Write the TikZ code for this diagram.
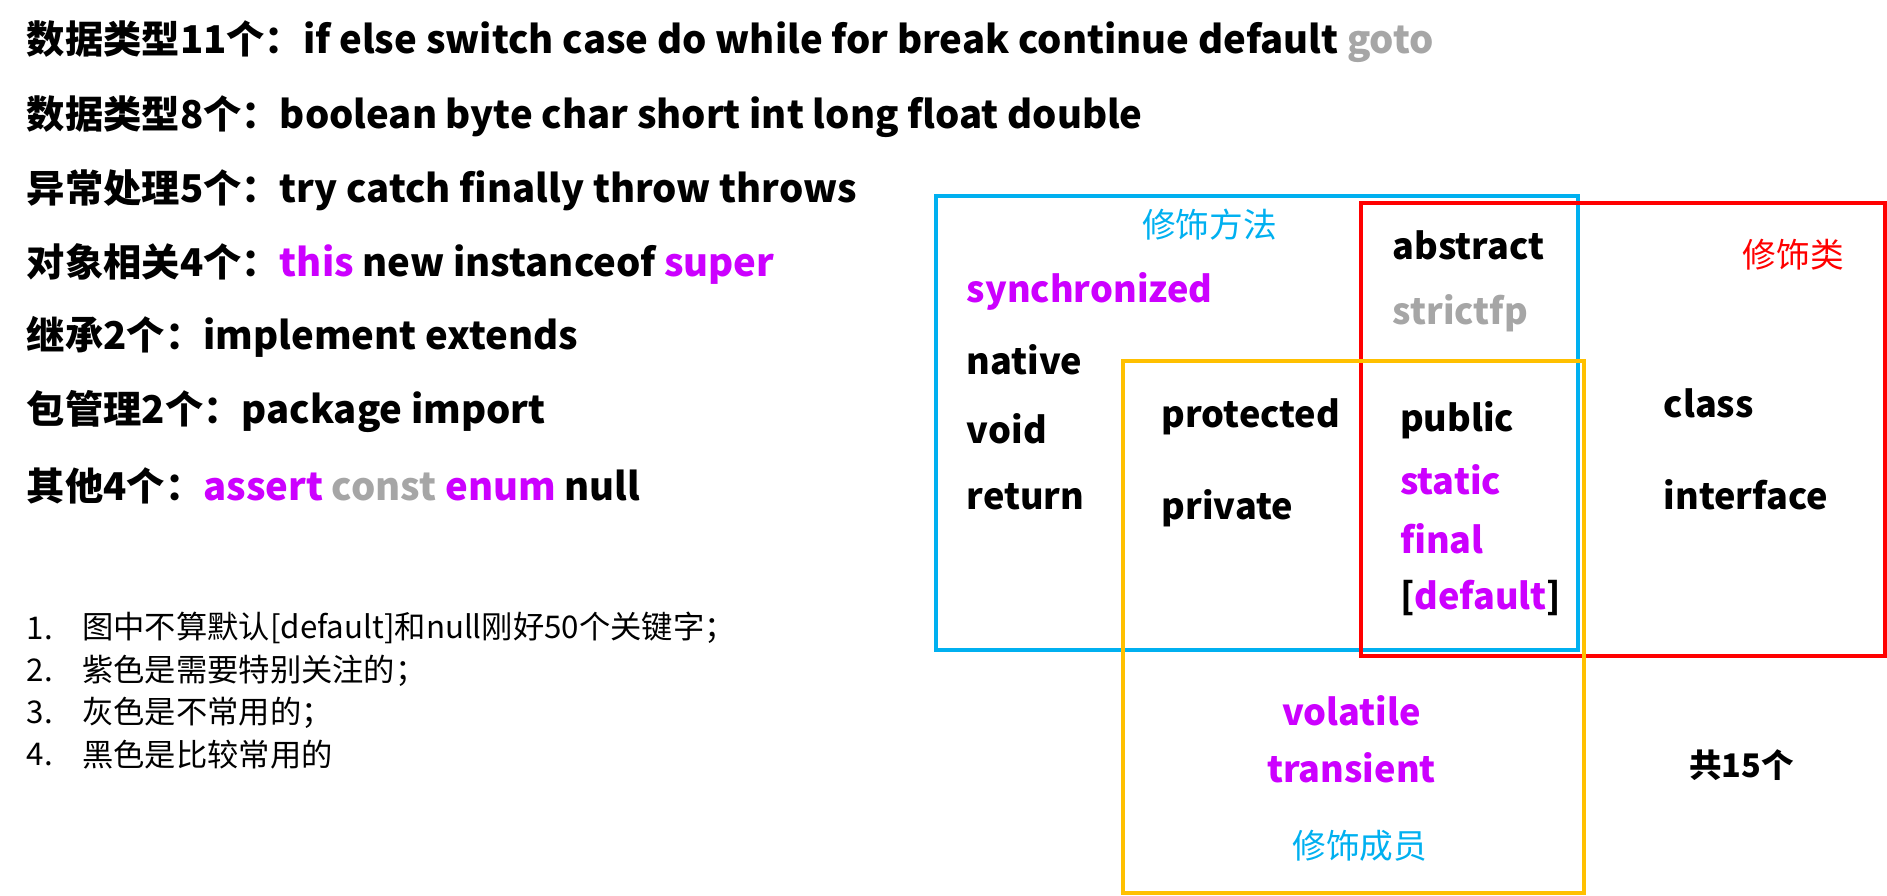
\documentclass[tikz,border=0pt]{standalone}
\usepackage{fontspec}
\setmainfont{Noto Sans CJK SC}
\definecolor{pur}{HTML}{CC00FF}
\definecolor{gry}{HTML}{A6A6A6}
\definecolor{bl}{HTML}{00B0F0}
\definecolor{rd}{HTML}{FF0000}
\definecolor{og}{HTML}{FFC000}
\begin{document}
\begin{tikzpicture}[x=0.5pt,y=-0.5pt,
 t/.style={anchor=west,inner sep=0pt,font=\fontsize{15}{18}\selectfont\bfseries},
 lt/.style={anchor=west,inner sep=0pt,font=\fontsize{15.9}{18}\selectfont\bfseries},
 c/.style={anchor=center,inner sep=0pt,font=\fontsize{15}{18}\selectfont\bfseries},
 lab/.style={anchor=center,inner sep=0pt,font=\fontsize{14}{17}\selectfont},
 note/.style={anchor=west,inner sep=0pt,font=\fontsize{13}{16}\selectfont},
 box/.style={line width=1.6pt}]
\useasboundingbox (0,0) rectangle (1568,744);
\node[lt] (l1) at (22,35) {数据类型11个：if else switch case do while for break continue default \textcolor{gry}{goto}};
\node[lt] (l2) at (22,97) {数据类型8个：boolean byte char short int long float double};
\node[lt] (l3) at (22,158) {异常处理5个：try catch finally throw throws};
\node[lt] (l4) at (22,219) {对象相关4个：\textcolor{pur}{this} new instanceof \textcolor{pur}{super}};
\node[lt] (l5) at (22,280) {继承2个：implement extends};
\node[lt] (l6) at (22,342) {包管理2个：package import};
\node[lt] (l7) at (22,404) {其他4个：\textcolor{pur}{assert} \textcolor{gry}{const} \textcolor{pur}{enum} null};
\foreach \n/\y/\s in {1/522/图中不算默认[default]和null刚好50个关键字；,2/557/紫色是需要特别关注的；,3/592/灰色是不常用的；,4/627/黑色是比较常用的}{
 \node[note] (n\n) at (22,\y) {\n.};
 \node[note] (m\n) at (68,\y) {\s};
}
\draw[box,bl] (778,163) rectangle (1311,540);
\draw[box,rd] (1131,169) rectangle (1566,545);
\draw[box,og] (933,300) rectangle (1316,742);
\node[lab,bl] (fm) at (1005,187) {修饰方法};
\node[lab,rd] (fl) at (1490,212) {修饰类};
\node[lab,bl] (fc) at (1130,703) {修饰成员};
\node[t,pur] (sy) at (803,242) {synchronized};
\node[t] (na) at (803,299) {native};
\node[t] (vo) at (803,356) {void};
\node[t] (re) at (803,413) {return};
\node[t] (ab) at (1157,204) {abstract};
\node[t,gry] (sf) at (1157,260) {strictfp};
\node[t] (pr) at (965,346) {protected};
\node[t] (pv) at (965,422) {private};
\node[t] (pu) at (1163,349) {public};
\node[t,pur] (st) at (1163,399) {static};
\node[t,pur] (fi) at (1163,448) {final};
\node[t] (de) at (1163,497) {[\textcolor{pur}{default}]};
\node[t] (cl) at (1382,335) {class};
\node[t] (in) at (1382,411) {interface};
\node[c,pur] (vl) at (1123,591) {volatile};
\node[c,pur] (tr) at (1123,638) {transient};
\node[c,font=\fontsize{13.5}{16}\selectfont\bfseries] (tot) at (1447,636) {共15个};
\end{tikzpicture}
\end{document}
